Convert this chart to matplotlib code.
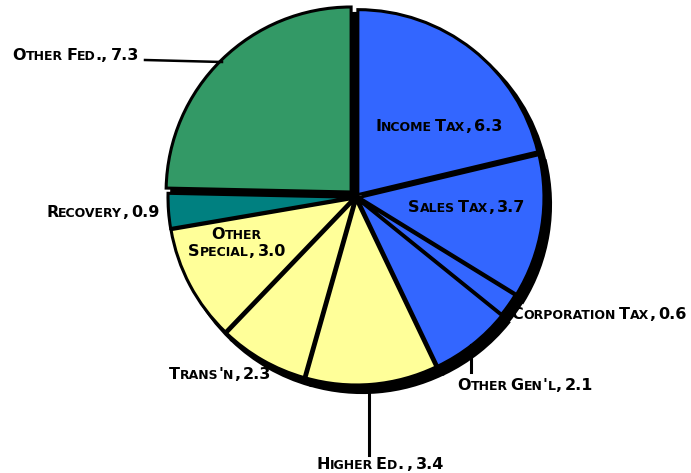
import matplotlib
matplotlib.use("Agg")
import matplotlib.pyplot as plt

# slices, clockwise from 12 o'clock
names = ["Income Tax", "Sales Tax", "Corporation Tax", "Other Gen'l",
         "Higher Ed. ", "Trans'n", "Other Special", "Recovery", "Other Fed."]
values = [6.3, 3.7, 0.6, 2.1, 3.4, 2.3, 3.0, 0.9, 7.3]
colors = ["#3366ff", "#3366ff", "#3366ff", "#3366ff",
          "#ffff99", "#ffff99", "#ffff99", "#008080", "#339966"]
# pull-out of each slice, in pixels
explode = [3, 3, 2, 3, 3, 3, 3, 3, 7]

W, H = 691, 473
fig = plt.figure(figsize=(W / 100, H / 100), dpi=100)
ax = fig.add_axes([0, 0, 1, 1])

cx, cy, r = 356, H - 197, 185

# black drop shadow behind the pie
ax.pie(values, startangle=90, counterclock=False, center=(cx + 6, cy - 7),
       radius=r, explode=explode, colors=["black"] * len(values),
       wedgeprops=dict(linewidth=3, edgecolor="black"))
ax.pie(values, startangle=90, counterclock=False, center=(cx, cy),
       radius=r, explode=explode, colors=colors,
       wedgeprops=dict(linewidth=2.2, edgecolor="black"))

ax.set_xlim(0, W)
ax.set_ylim(0, H)
ax.set_aspect("equal")
ax.axis("off")

renderer = fig.canvas.get_renderer()


def small_caps(x, y_px, s, size=11.5, ratio=0.78):
    """draw s in fake small caps, centred on x, baseline at y_px (from top)"""
    runs = []
    for ch in s:
        kind = "sp" if ch == " " else ("lo" if ch.islower() else "up")
        if runs and runs[-1][1] == kind:
            runs[-1][0] += ch
        else:
            runs.append([ch, kind])
    parts = []
    for chunk, kind in runs:
        if kind == "sp":
            parts.append((None, 3 * len(chunk)))
            continue
        t = ax.text(0, H - y_px, chunk.upper(), ha="left", va="baseline",
                    fontsize=size * ratio if kind == "lo" else size,
                    fontweight="bold", family="DejaVu Sans", color="black")
        parts.append((t, t.get_window_extent(renderer).width))
    pos = x - sum(w for _, w in parts) / 2
    for t, w in parts:
        if t is not None:
            t.set_x(pos)
        pos += w


lab = [f"{n}, {v:.1f}" for n, v in zip(names, values)]
small_caps(439, 131, lab[0])
small_caps(467, 212, lab[1])
small_caps(599, 319, lab[2])
small_caps(525, 390, lab[3])
small_caps(380, 469, lab[4])
small_caps(220, 379, lab[5])
small_caps(237, 239, "Other")
small_caps(237, 256, "Special, " + f"{values[6]:.1f}")
small_caps(103, 217, lab[7])
small_caps(76, 60, lab[8])

# leader lines
ax.plot([145, 222], [H - 60, H - 62], color="black", lw=1.8)
ax.plot([471, 471], [H - 345, H - 372], color="black", lw=2.2)
ax.plot([369, 369], [H - 385, H - 455], color="black", lw=2.2)

fig.savefig("out.png", dpi=100)
